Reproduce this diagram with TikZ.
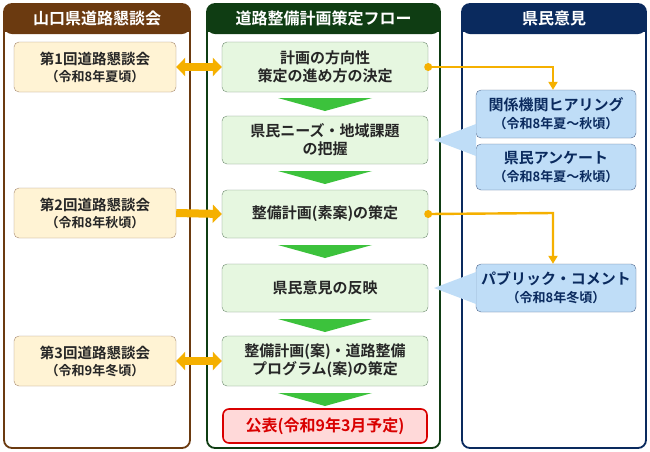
\documentclass[tikz,border=0pt]{standalone}
\usepackage{fontspec}
\setmainfont{Noto Sans CJK JP}[BoldFont={Noto Sans CJK JP Bold}]
\usetikzlibrary{arrows.meta}
\definecolor{brn}{HTML}{6B3A10}\definecolor{dgr}{HTML}{0F3D13}\definecolor{nav}{HTML}{0A2A5E}
\definecolor{yfill}{HTML}{FFF3D4}\definecolor{gfill}{HTML}{E6F7E0}\definecolor{bfill}{HTML}{BFDDF7}
\definecolor{org}{HTML}{F5B000}\definecolor{grn}{HTML}{3CC23C}
\newcommand\smfnt{\bfseries\fontsize{13}{15}\selectfont}
\tikzset{
 col/.style={draw=#1,line width=1.8pt,rounded corners=8pt},
 htxt/.style={text=white,font=\bfseries\fontsize{16}{18}\selectfont},
 lbox/.style={draw=brn!60,fill=yfill,rounded corners=5pt,minimum width=162pt,minimum height=50pt,align=center,font=\bfseries\fontsize{14.5}{17}\selectfont,text=black!85,inner sep=1pt},
 mbox/.style={draw=dgr!60,fill=gfill,rounded corners=5pt,minimum width=206pt,align=center,font=\bfseries\fontsize{15}{18}\selectfont,text=black!85,inner sep=1pt},
 rbox/.style={draw=nav!70,fill=bfill,rounded corners=5pt,minimum width=160pt,align=center,font=\bfseries\fontsize{15}{18}\selectfont,text=nav,inner sep=1pt},
 dbl/.style={org,line width=8pt,{Triangle[width=18pt,length=9pt]}-{Triangle[width=18pt,length=9pt]}},
 sgl/.style={org,line width=8pt,-{Triangle[width=18pt,length=9pt]}},
 con/.style={org,line width=2.4pt,-{Triangle[width=9pt,length=8pt]}},
}
\begin{document}
\begin{tikzpicture}[x=1pt,y=-1pt]
\useasboundingbox (0,0) rectangle (650,451);
\fill[white] (0,0) rectangle (650,451);
\foreach \xa/\xb/\c in {4/190/brn,207/440/dgr,462/646/nav}{
 \fill[\c,rounded corners=8pt] (\xa,4) rectangle (\xb,34);
 \fill[\c] (\xa,22) rectangle (\xb,32);
 \draw[col=\c] (\xa,4) rectangle (\xb,448);}
\node[htxt] (h1) at (97,18) {山口県道路懇談会};
\node[htxt] (h2) at (323.5,18) {道路整備計画策定フロー};
\node[htxt] (h3) at (554,18) {県民意見};
\node[lbox] (l1) at (95,67) {第1回道路懇談会\\\smfnt（令和8年夏頃）};
\node[lbox] (l2) at (95,213) {第2回道路懇談会\\\smfnt（令和8年秋頃）};
\node[lbox] (l3) at (95,361) {第3回道路懇談会\\\smfnt（令和9年冬頃）};
\node[mbox,minimum height=50pt] (m1) at (325,67) {計画の方向性\\策定の進め方の決定};
\node[mbox,minimum height=48pt] (m2) at (325,140) {県民ニーズ・地域課題\\の把握};
\node[mbox,minimum height=48pt] (m3) at (325,214) {整備計画(素案)の策定};
\node[mbox,minimum height=48pt] (m4) at (325,288) {県民意見の反映};
\node[mbox,minimum height=50pt] (m5) at (325,361) {整備計画(案)・道路整備\\プログラム(案)の策定};
\node[draw=red!85!black,line width=1.6pt,fill=pink!60,rounded corners=6pt,minimum width=204pt,minimum height=34pt,text=red!85!black,font=\bfseries\fontsize{16}{18}\selectfont] (m6) at (325,426) {公表(令和9年3月予定)};
\foreach \y in {98,171,245,319,393}{\fill[grn] (278,\y) -- (372,\y) -- (325,\y+13) -- cycle;}
\node[rbox,minimum height=48pt] (r1) at (556,114) {関係機関ヒアリング\\\smfnt（令和8年夏～秋頃）};
\node[rbox,minimum height=46pt] (r2) at (556,167) {県民アンケート\\\smfnt（令和8年夏～秋頃）};
\node[rbox,minimum height=48pt] (r3) at (556,288) {パブリック・コメント\\\smfnt（令和8年冬頃）};
\fill[bfill] (434,140) -- (476,124) -- (476,156) -- cycle;
\fill[bfill] (434,288) -- (476,272) -- (476,304) -- cycle;
\draw[dbl] (l1.east) -- (m1.west);
\draw[sgl] (l2.east) -- (m3.west);
\draw[dbl] (l3.east) -- (m5.west);
\coordinate (c1) at (553,67); \coordinate (c2) at (553,213);
\fill[org] (m1.east) circle (4pt); \fill[org] (m3.east) circle (4pt);
\draw[con] (m1.east) -- (c1) -- (r1.north -| c1);
\draw[con] (m3.east) -- (c2) -- (r3.north -| c2);
\end{tikzpicture}
\end{document}
